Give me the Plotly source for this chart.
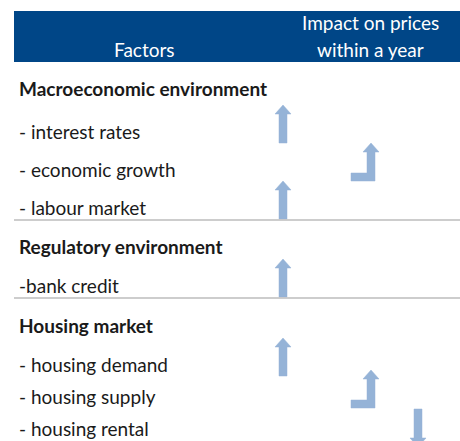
import plotly.graph_objects as go

# ---- data ----
factors = [
    "Macroeconomic environment",
    "- interest rates",
    "- economic growth",
    "- labour market",
    "Regulatory environment",
    "-bank credit",
    "Housing market",
    "- housing demand",
    "- housing supply",
    "- housing rental",
]
is_group = [True, False, False, False, True, False, True, False, False, False]
impact = [None, "up", "moderately up", "up", None, "up", None, "up", "moderately up", "down"]
header_left = "Factors"
header_right = ["Impact on prices", "within a year"]

# ---- layout constants ----
W, H = 460, 441
row_y = [88, 131, 169, 207, 246, 285, 325, 364, 396, 428]
sep_after_rows = [3, 5]
col_x = {"up": 283, "moderately up": 371, "down": 418}
ARROW = "#95B3D7"
HEADER = "#004687"
TXT = "#1a1a1a"
FONT = "Lato"
FS = 19

fig = go.Figure()

def up_arrow(cx, ty, by, sw=4, hw=8, hh=9):
    xs = [cx - sw, cx - sw, cx - hw, cx, cx + hw, cx + sw, cx + sw, cx - sw]
    ys = [by, ty + hh, ty + hh, ty, ty + hh, ty + hh, by, by]
    return xs, ys

def down_arrow(cx, ty, by, sw=4, hw=8, hh=9):
    xs = [cx - sw, cx - sw, cx - hw, cx, cx + hw, cx + sw, cx + sw, cx - sw]
    ys = [ty, by - hh, by - hh, by, by - hh, by - hh, ty, ty]
    return xs, ys

def bent_arrow(cx, ty, by, sw=4, hw=8, hh=9, bar=20, th=8):
    xs = [cx - bar, cx + sw, cx + sw, cx + hw, cx, cx - hw, cx - sw, cx - sw, cx - bar, cx - bar]
    ys = [by, by, ty + hh, ty + hh, ty, ty + hh, ty + hh, by - th, by - th, by]
    return xs, ys

for i, imp in enumerate(impact):
    if imp is None:
        continue
    y = row_y[i]
    cx = col_x[imp]
    if imp == "up":
        xs, ys = up_arrow(cx, y - 26, y + 12)
    elif imp == "moderately up":
        xs, ys = bent_arrow(cx, y - 26, y + 12)
    else:
        xs, ys = down_arrow(cx, y - 19, y + 19)
    fig.add_trace(go.Scatter(x=xs, y=ys, mode="lines", fill="toself",
                             fillcolor=ARROW, line=dict(color=ARROW, width=0.5),
                             hoverinfo="skip", showlegend=False))

# factor labels
for i, (lab, g) in enumerate(zip(factors, is_group)):
    fig.add_annotation(x=17, y=row_y[i], text=f"<b>{lab}</b>" if g else lab,
                       xanchor="left", yanchor="middle", showarrow=False,
                       font=dict(family=FONT, size=FS, color=TXT))

# header
fig.add_shape(type="rect", x0=14, x1=W + 5, y0=11, y1=62, fillcolor=HEADER,
              line=dict(width=0), layer="below")
fig.add_annotation(x=144, y=49, text=header_left, showarrow=False,
                   xanchor="center", yanchor="middle",
                   font=dict(family=FONT, size=FS, color="white"))
for k, t in enumerate(header_right):
    fig.add_annotation(x=370, y=22 + 27 * k, text=t, showarrow=False,
                       xanchor="center", yanchor="middle",
                       font=dict(family=FONT, size=FS, color="white"))

# separators (just under the last row of a group)
for r in sep_after_rows:
    ys = row_y[r] + 13
    fig.add_shape(type="line", x0=14, x1=W + 5, y0=ys, y1=ys,
                  line=dict(color="#BDBDBD", width=1.5))

fig.update_layout(
    width=W, height=H, margin=dict(l=0, r=0, t=0, b=0),
    paper_bgcolor="white", plot_bgcolor="white",
    xaxis=dict(range=[0, W], visible=False, fixedrange=True),
    yaxis=dict(range=[H, 0], visible=False, fixedrange=True),
    showlegend=False,
)

fig.write_html("out.html", config={"displayModeBar": False},
               post_script="document.body.style.margin='0px';document.body.style.overflow='hidden';")
